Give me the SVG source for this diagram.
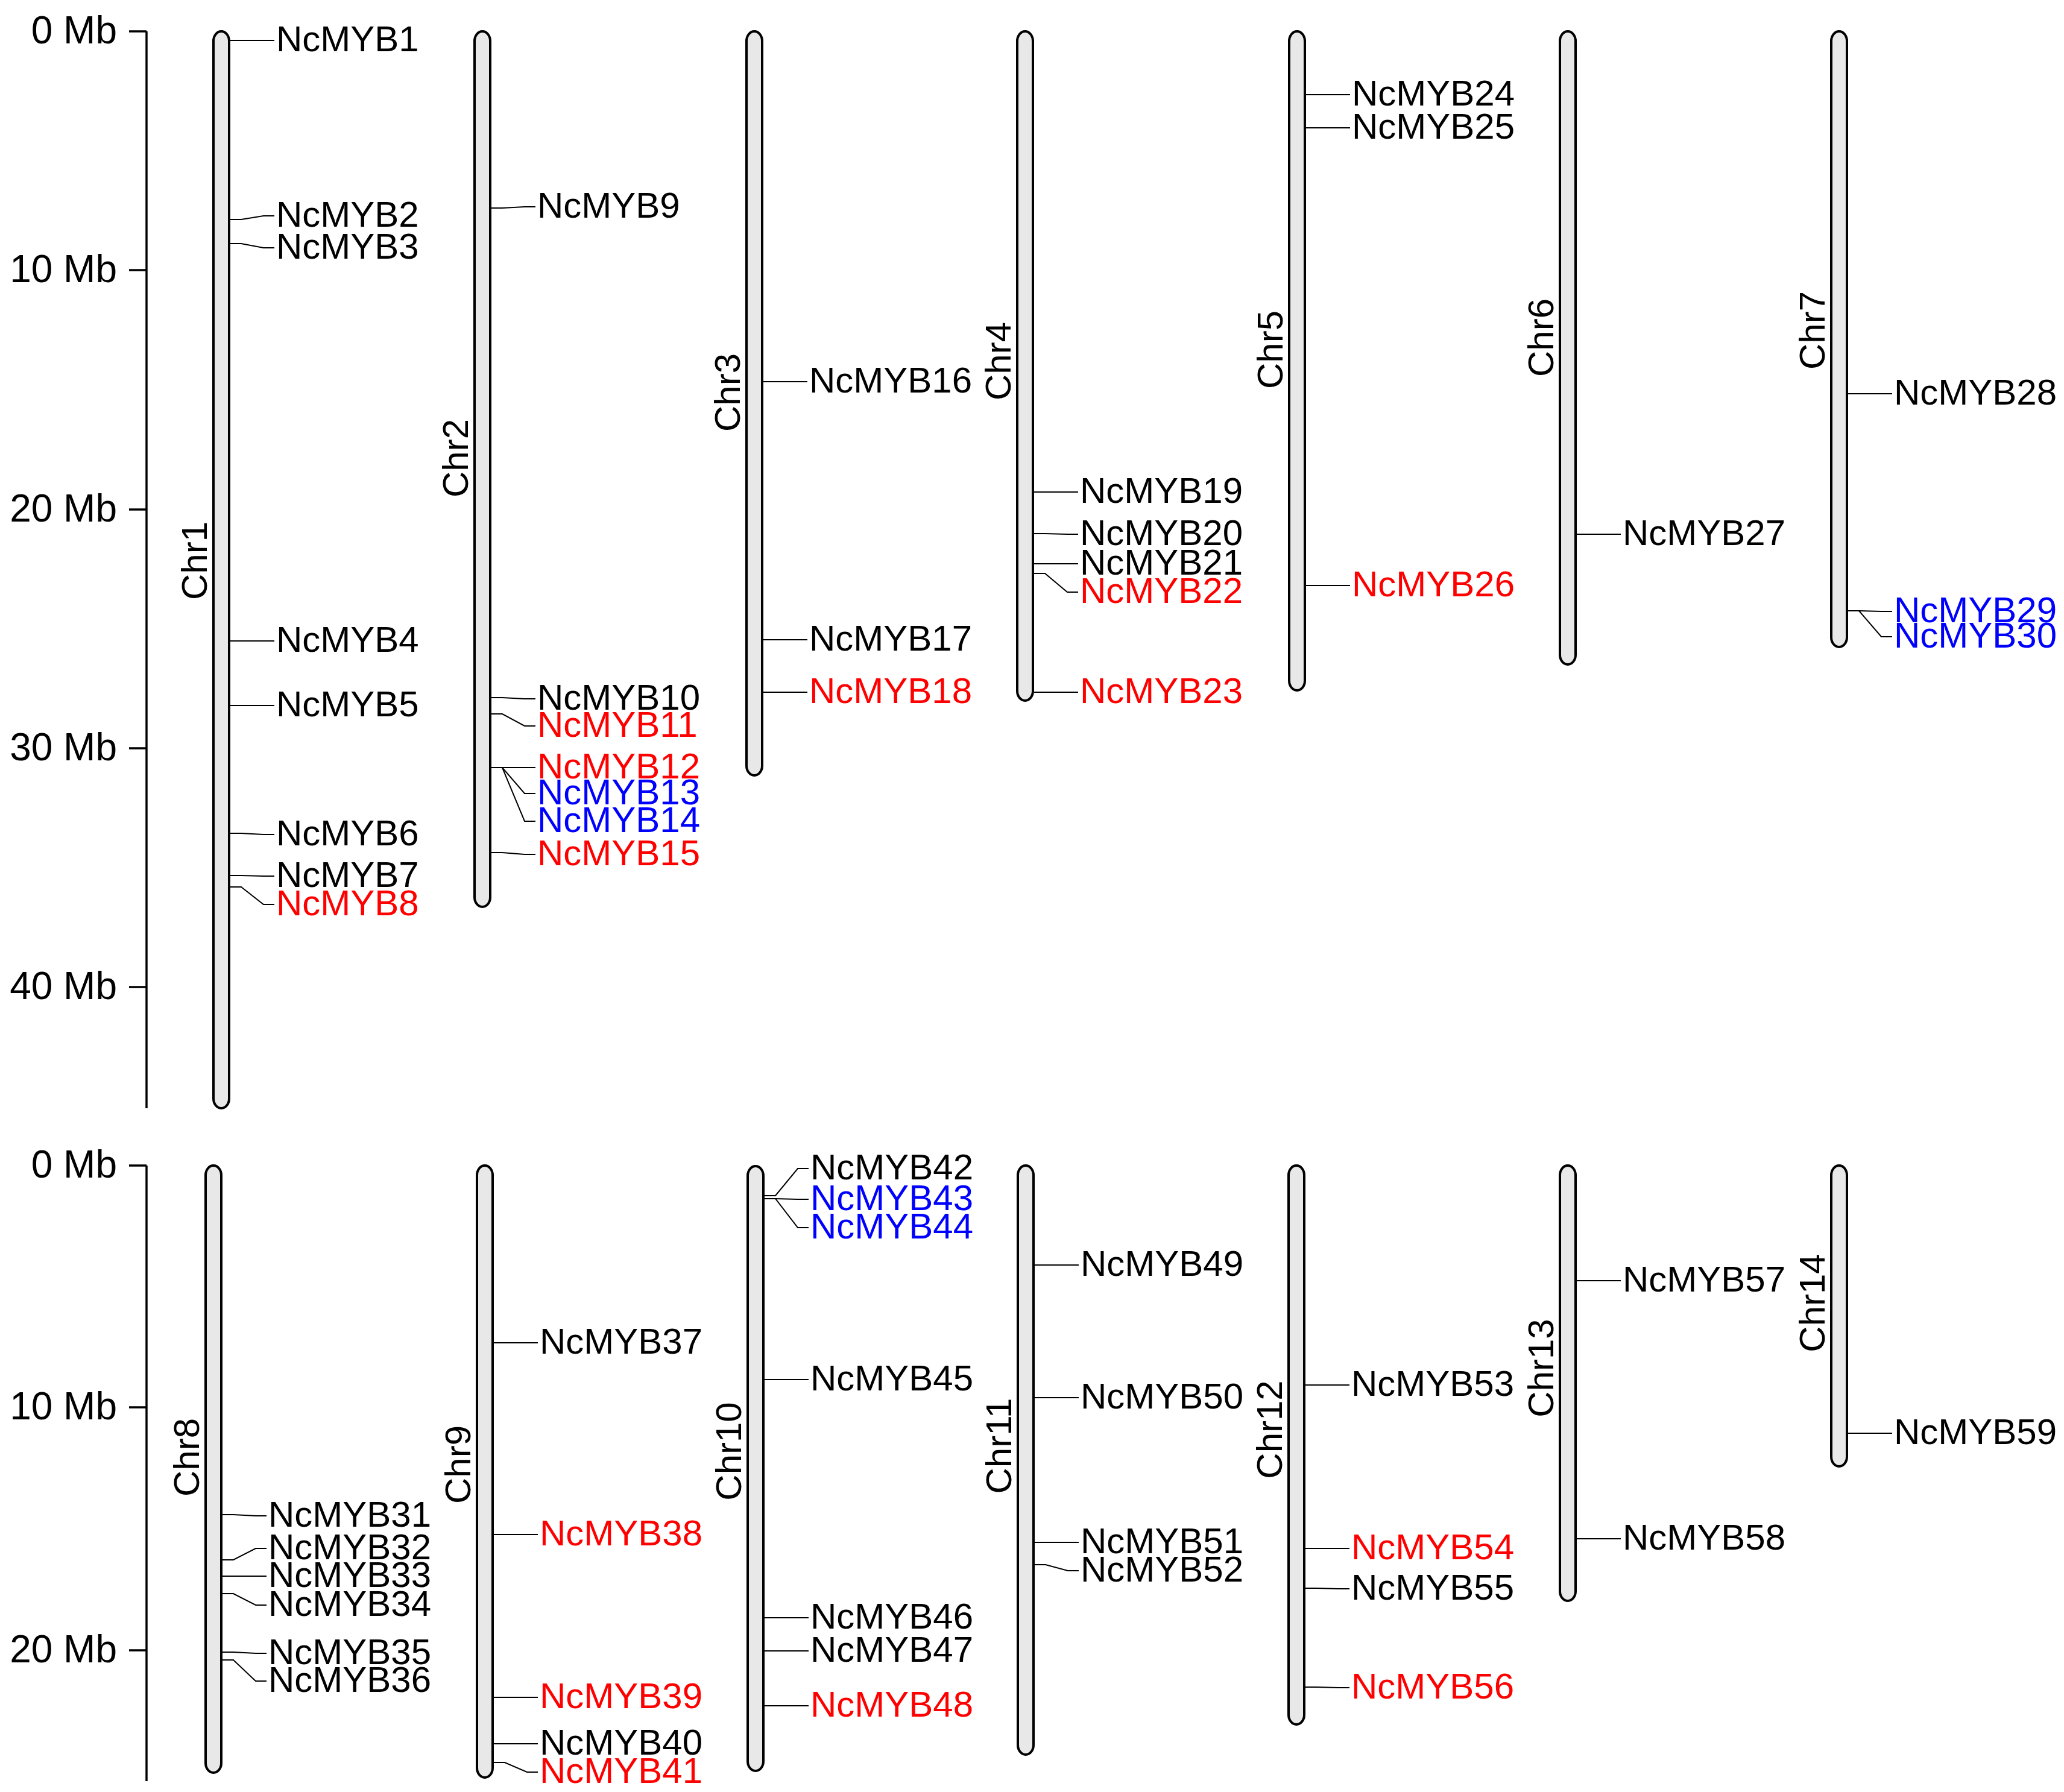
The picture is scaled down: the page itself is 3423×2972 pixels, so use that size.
<svg xmlns="http://www.w3.org/2000/svg" width="3423" height="2972" viewBox="0 0 3423 2972">
<style>
text{font-family:"Liberation Sans",Arial,sans-serif;}
.g{font-size:60px;fill:#000;}
.r{fill:#ff0000;}
.b{fill:#0000ff;}
.ax{font-size:64px;fill:#000;text-anchor:end;}
.cl{font-size:60px;fill:#000;text-anchor:middle;}
.chr{fill:#e8e8e8;stroke:#000;stroke-width:4;}
.axis{fill:none;stroke:#000;stroke-width:3.5;}
.con path{fill:none;stroke:#000;stroke-width:2;}
</style>
<rect width="3423" height="2972" fill="#fff"/>
<g id="axis-top">
<path class="axis" d="M243,52V1838M214,52H243M214,448H243M214,845H243M214,1241H243M214,1637H243"/>
<text class="ax" x="194" y="72">0 Mb</text>
<text class="ax" x="194" y="468">10 Mb</text>
<text class="ax" x="194" y="865">20 Mb</text>
<text class="ax" x="194" y="1261">30 Mb</text>
<text class="ax" x="194" y="1657">40 Mb</text>
</g>
<g id="axis-bottom">
<path class="axis" d="M243,1933V2954M214,1933H243M214,2334H243M214,2737H243"/>
<text class="ax" x="194" y="1953">0 Mb</text>
<text class="ax" x="194" y="2354">10 Mb</text>
<text class="ax" x="194" y="2757">20 Mb</text>
</g>
<g id="chr1"><rect class="chr" x="354" y="52" width="26" height="1786" rx="13" ry="16"/><text class="cl" transform="translate(343,930) rotate(-90)">Chr1</text></g>
<g id="chr2"><rect class="chr" x="787" y="52" width="26" height="1452" rx="13" ry="16"/><text class="cl" transform="translate(776,760) rotate(-90)">Chr2</text></g>
<g id="chr3"><rect class="chr" x="1238" y="52" width="26" height="1234" rx="13" ry="16"/><text class="cl" transform="translate(1227,651) rotate(-90)">Chr3</text></g>
<g id="chr4"><rect class="chr" x="1687" y="52" width="26" height="1110" rx="13" ry="16"/><text class="cl" transform="translate(1676,599) rotate(-90)">Chr4</text></g>
<g id="chr5"><rect class="chr" x="2138" y="52" width="26" height="1093" rx="13" ry="16"/><text class="cl" transform="translate(2127,580) rotate(-90)">Chr5</text></g>
<g id="chr6"><rect class="chr" x="2587" y="52" width="26" height="1050" rx="13" ry="16"/><text class="cl" transform="translate(2576,560) rotate(-90)">Chr6</text></g>
<g id="chr7"><rect class="chr" x="3037" y="52" width="26" height="1021" rx="13" ry="16"/><text class="cl" transform="translate(3026,548) rotate(-90)">Chr7</text></g>
<g id="chr8"><rect class="chr" x="341" y="1933" width="26" height="1007" rx="13" ry="16"/><text class="cl" transform="translate(330,2417) rotate(-90)">Chr8</text></g>
<g id="chr9"><rect class="chr" x="791" y="1933" width="26" height="1015" rx="13" ry="16"/><text class="cl" transform="translate(780,2429) rotate(-90)">Chr9</text></g>
<g id="chr10"><rect class="chr" x="1240" y="1934" width="26" height="1003" rx="13" ry="16"/><text class="cl" transform="translate(1229,2407) rotate(-90)">Chr10</text></g>
<g id="chr11"><rect class="chr" x="1688" y="1933" width="26" height="977" rx="13" ry="16"/><text class="cl" transform="translate(1677,2398) rotate(-90)">Chr11</text></g>
<g id="chr12"><rect class="chr" x="2137" y="1933" width="26" height="927" rx="13" ry="16"/><text class="cl" transform="translate(2126,2371) rotate(-90)">Chr12</text></g>
<g id="chr13"><rect class="chr" x="2587" y="1933" width="26" height="722" rx="13" ry="16"/><text class="cl" transform="translate(2576,2269) rotate(-90)">Chr13</text></g>
<g id="chr14"><rect class="chr" x="3037" y="1933" width="26" height="499" rx="13" ry="16"/><text class="cl" transform="translate(3026,2161) rotate(-90)">Chr14</text></g>
<g id="connectors" class="con">
<path d="M382,67H400L437,67H455"/>
<path d="M382,364H400L437,358H455"/>
<path d="M382,404H400L437,411H455"/>
<path d="M382,1063H400L437,1063H455"/>
<path d="M382,1170H400L437,1170H455"/>
<path d="M382,1382H400L437,1384H455"/>
<path d="M382,1452H400L437,1453H455"/>
<path d="M382,1471H400L437,1500H455"/>
<path d="M815,345H833L870,343H888"/>
<path d="M815,1157H833L870,1159H888"/>
<path d="M815,1184H833L870,1204H888"/>
<path d="M815,1273H833L870,1273H888"/>
<path d="M815,1273H833L870,1316H888"/>
<path d="M815,1273H833L870,1362H888"/>
<path d="M815,1414H833L870,1417H888"/>
<path d="M1266,633H1284L1321,633H1339"/>
<path d="M1266,1061H1284L1321,1061H1339"/>
<path d="M1266,1148H1284L1321,1148H1339"/>
<path d="M1715,816H1733L1770,816H1788"/>
<path d="M1715,885H1733L1770,886H1788"/>
<path d="M1715,935H1733L1770,935H1788"/>
<path d="M1715,951H1733L1770,982H1788"/>
<path d="M1715,1148H1733L1770,1148H1788"/>
<path d="M2166,157H2184L2221,157H2239"/>
<path d="M2166,212H2184L2221,212H2239"/>
<path d="M2166,971H2184L2221,971H2239"/>
<path d="M2615,886H2633L2670,886H2688"/>
<path d="M3065,653H3083L3120,653H3138"/>
<path d="M3065,1013H3083L3120,1014H3138"/>
<path d="M3065,1013H3083L3120,1056H3138"/>
<path d="M369,2512H387L424,2514H442"/>
<path d="M369,2587H387L424,2568H442"/>
<path d="M369,2614H387L424,2614H442"/>
<path d="M369,2643H387L424,2662H442"/>
<path d="M369,2740H387L424,2742H442"/>
<path d="M369,2753H387L424,2788H442"/>
<path d="M819,2227H837L874,2227H892"/>
<path d="M819,2545H837L874,2545H892"/>
<path d="M819,2815H837L874,2815H892"/>
<path d="M819,2892H837L874,2892H892"/>
<path d="M819,2923H837L874,2939H892"/>
<path d="M1268,1983H1286L1323,1938H1341"/>
<path d="M1268,1988H1286L1323,1989H1341"/>
<path d="M1268,1988H1286L1323,2036H1341"/>
<path d="M1268,2288H1286L1323,2288H1341"/>
<path d="M1268,2683H1286L1323,2683H1341"/>
<path d="M1268,2738H1286L1323,2738H1341"/>
<path d="M1268,2829H1286L1323,2829H1341"/>
<path d="M1716,2098H1734L1771,2098H1789"/>
<path d="M1716,2318H1734L1771,2318H1789"/>
<path d="M1716,2558H1734L1771,2558H1789"/>
<path d="M1716,2595H1734L1771,2605H1789"/>
<path d="M2165,2297H2183L2220,2297H2238"/>
<path d="M2165,2568H2183L2220,2568H2238"/>
<path d="M2165,2634H2183L2220,2635H2238"/>
<path d="M2165,2798H2183L2220,2799H2238"/>
<path d="M2615,2124H2633L2670,2124H2688"/>
<path d="M2615,2552H2633L2670,2552H2688"/>
<path d="M3065,2377H3083L3120,2377H3138"/>
</g>
<g id="labels">
<text class="g" x="458" y="85">NcMYB1</text>
<text class="g" x="458" y="376">NcMYB2</text>
<text class="g" x="458" y="429">NcMYB3</text>
<text class="g" x="458" y="1081">NcMYB4</text>
<text class="g" x="458" y="1188">NcMYB5</text>
<text class="g" x="458" y="1402">NcMYB6</text>
<text class="g" x="458" y="1471">NcMYB7</text>
<text class="g r" x="458" y="1518">NcMYB8</text>
<text class="g" x="891" y="361">NcMYB9</text>
<text class="g" x="891" y="1177">NcMYB10</text>
<text class="g r" x="891" y="1222">NcMYB11</text>
<text class="g r" x="891" y="1291">NcMYB12</text>
<text class="g b" x="891" y="1334">NcMYB13</text>
<text class="g b" x="891" y="1380">NcMYB14</text>
<text class="g r" x="891" y="1435">NcMYB15</text>
<text class="g" x="1342" y="651">NcMYB16</text>
<text class="g" x="1342" y="1079">NcMYB17</text>
<text class="g r" x="1342" y="1166">NcMYB18</text>
<text class="g" x="1791" y="834">NcMYB19</text>
<text class="g" x="1791" y="904">NcMYB20</text>
<text class="g" x="1791" y="953">NcMYB21</text>
<text class="g r" x="1791" y="1000">NcMYB22</text>
<text class="g r" x="1791" y="1166">NcMYB23</text>
<text class="g" x="2242" y="175">NcMYB24</text>
<text class="g" x="2242" y="230">NcMYB25</text>
<text class="g r" x="2242" y="989">NcMYB26</text>
<text class="g" x="2691" y="904">NcMYB27</text>
<text class="g" x="3141" y="671">NcMYB28</text>
<text class="g b" x="3141" y="1032">NcMYB29</text>
<text class="g b" x="3141" y="1074">NcMYB30</text>
<text class="g" x="445" y="2532">NcMYB31</text>
<text class="g" x="445" y="2586">NcMYB32</text>
<text class="g" x="445" y="2632">NcMYB33</text>
<text class="g" x="445" y="2680">NcMYB34</text>
<text class="g" x="445" y="2760">NcMYB35</text>
<text class="g" x="445" y="2806">NcMYB36</text>
<text class="g" x="895" y="2245">NcMYB37</text>
<text class="g r" x="895" y="2563">NcMYB38</text>
<text class="g r" x="895" y="2833">NcMYB39</text>
<text class="g" x="895" y="2910">NcMYB40</text>
<text class="g r" x="895" y="2957">NcMYB41</text>
<text class="g" x="1344" y="1956">NcMYB42</text>
<text class="g b" x="1344" y="2007">NcMYB43</text>
<text class="g b" x="1344" y="2054">NcMYB44</text>
<text class="g" x="1344" y="2306">NcMYB45</text>
<text class="g" x="1344" y="2701">NcMYB46</text>
<text class="g" x="1344" y="2756">NcMYB47</text>
<text class="g r" x="1344" y="2847">NcMYB48</text>
<text class="g" x="1792" y="2116">NcMYB49</text>
<text class="g" x="1792" y="2336">NcMYB50</text>
<text class="g" x="1792" y="2576">NcMYB51</text>
<text class="g" x="1792" y="2623">NcMYB52</text>
<text class="g" x="2241" y="2315">NcMYB53</text>
<text class="g r" x="2241" y="2586">NcMYB54</text>
<text class="g" x="2241" y="2653">NcMYB55</text>
<text class="g r" x="2241" y="2817">NcMYB56</text>
<text class="g" x="2691" y="2142">NcMYB57</text>
<text class="g" x="2691" y="2570">NcMYB58</text>
<text class="g" x="3141" y="2395">NcMYB59</text>
</g>
</svg>
